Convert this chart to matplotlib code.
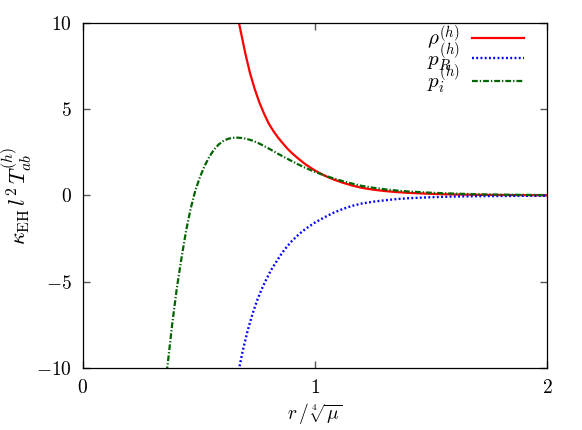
import matplotlib
matplotlib.use("Agg")
import matplotlib.pyplot as plt
from matplotlib.ticker import FuncFormatter

plt.rcParams['mathtext.fontset'] = 'cm'
plt.rcParams['font.family'] = 'serif'
plt.rcParams['font.serif'] = ['cmr10', 'DejaVu Serif']
plt.rcParams['axes.formatter.use_mathtext'] = True

# --- data ---
r_rho = [0.660, 0.673, 0.680, 0.700, 0.720, 0.740, 0.760, 0.780, 0.800, 0.820,
         0.840, 0.860, 0.880, 0.900, 0.930, 0.960, 1.000, 1.040, 1.080, 1.120,
         1.160, 1.200, 1.250, 1.300, 1.350, 1.400, 1.500, 1.600, 1.700, 1.800,
         1.900, 2.000]
rho = [10.9, 10.0, 9.55, 8.25, 7.12, 6.20, 5.42, 4.77, 4.20, 3.76,
       3.38, 3.05, 2.74, 2.47, 2.12, 1.80, 1.45, 1.16, 0.93, 0.74,
       0.58, 0.45, 0.34, 0.26, 0.20, 0.155, 0.095, 0.06, 0.04, 0.03,
       0.02, 0.015]

r_pR = [0.668, 0.674, 0.690, 0.710, 0.730, 0.750, 0.770, 0.790, 0.810, 0.830,
        0.850, 0.870, 0.900, 0.930, 0.960, 1.000, 1.040, 1.080, 1.120, 1.160,
        1.200, 1.250, 1.300, 1.350, 1.400, 1.500, 1.600, 1.700, 1.800, 1.900,
        2.000]
pR = [-10.4, -10.0, -8.95, -7.85, -6.92, -6.12, -5.45, -4.88, -4.35, -3.92,
      -3.50, -3.12, -2.65, -2.26, -1.93, -1.57, -1.27, -1.00, -0.78, -0.60,
      -0.47, -0.36, -0.28, -0.21, -0.16, -0.10, -0.06, -0.04, -0.03, -0.02,
      -0.015]

r_pi = [0.355, 0.365, 0.385, 0.405, 0.425, 0.445, 0.465, 0.485, 0.505, 0.525,
        0.545, 0.565, 0.585, 0.605, 0.625, 0.645, 0.665, 0.685, 0.705, 0.730,
        0.755, 0.780, 0.810, 0.840, 0.870, 0.900, 0.930, 0.960, 1.000, 1.040,
        1.080, 1.120, 1.160, 1.200, 1.250, 1.300, 1.350, 1.400, 1.500, 1.600,
        1.700, 1.800, 1.900, 2.000]
pi = [-10.9, -9.9, -7.5, -5.4, -3.65, -2.05, -0.75, 0.30, 1.08, 1.72,
      2.25, 2.66, 2.96, 3.16, 3.29, 3.35, 3.36, 3.34, 3.29, 3.19,
      3.05, 2.88, 2.66, 2.43, 2.21, 2.00, 1.79, 1.60, 1.37, 1.17,
      0.99, 0.83, 0.69, 0.56, 0.45, 0.36, 0.29, 0.235, 0.16, 0.11,
      0.07, 0.05, 0.035, 0.025]

xticks = [0, 1, 2]
yticks = [-10, -5, 0, 5, 10]
labels = [r'$\rho^{(h)}$', r'$p_R^{(h)}$', r'$p_i^{(h)}$']

fig = plt.figure(figsize=(5.82, 4.30), dpi=100)
ax = fig.add_axes([0.1421, 0.1449, 0.9404 - 0.1421, 0.9458 - 0.1449])

ax.plot(r_rho, rho, color='#ff0000', lw=1.6, label=labels[0])
ax.plot(r_pR, pR, color='#0000ff', lw=1.7, dashes=(0.8, 1.0), label=labels[1])
ax.plot(r_pi, pi, color='#006400', lw=1.6, dashes=(2.6, 0.9, 0.6, 0.9), label=labels[2])

ax.set_xlim(0, 2)
ax.set_ylim(-10, 10)
ax.set_xticks(xticks)
ax.set_yticks(yticks)
fmt = FuncFormatter(lambda v, p: r'$%g$' % v)
ax.xaxis.set_major_formatter(fmt)
ax.yaxis.set_major_formatter(fmt)
ax.tick_params(direction='in', length=5, width=1.0, color='#555555',
               top=True, right=True, labelsize=14, pad=8)
for s in ax.spines.values():
    s.set_linewidth(0.9)

ax.set_xlabel(r'$r\,/\,\sqrt[4]{\mu}$', fontsize=14, labelpad=3)
ax.set_ylabel(r'$\kappa_{\rm EH}\, l^2\, T^{(h)}_{ab}$', fontsize=16)
ax.yaxis.set_label_coords(-0.105, 0.5)

ax.legend(loc='upper right', bbox_to_anchor=(0.95, 1.0), frameon=False,
          markerfirst=False, fontsize=15, handlelength=2.5, handletextpad=0.6,
          labelspacing=-0.54, borderpad=0, borderaxespad=0)

fig.savefig('out.png', dpi=100)
